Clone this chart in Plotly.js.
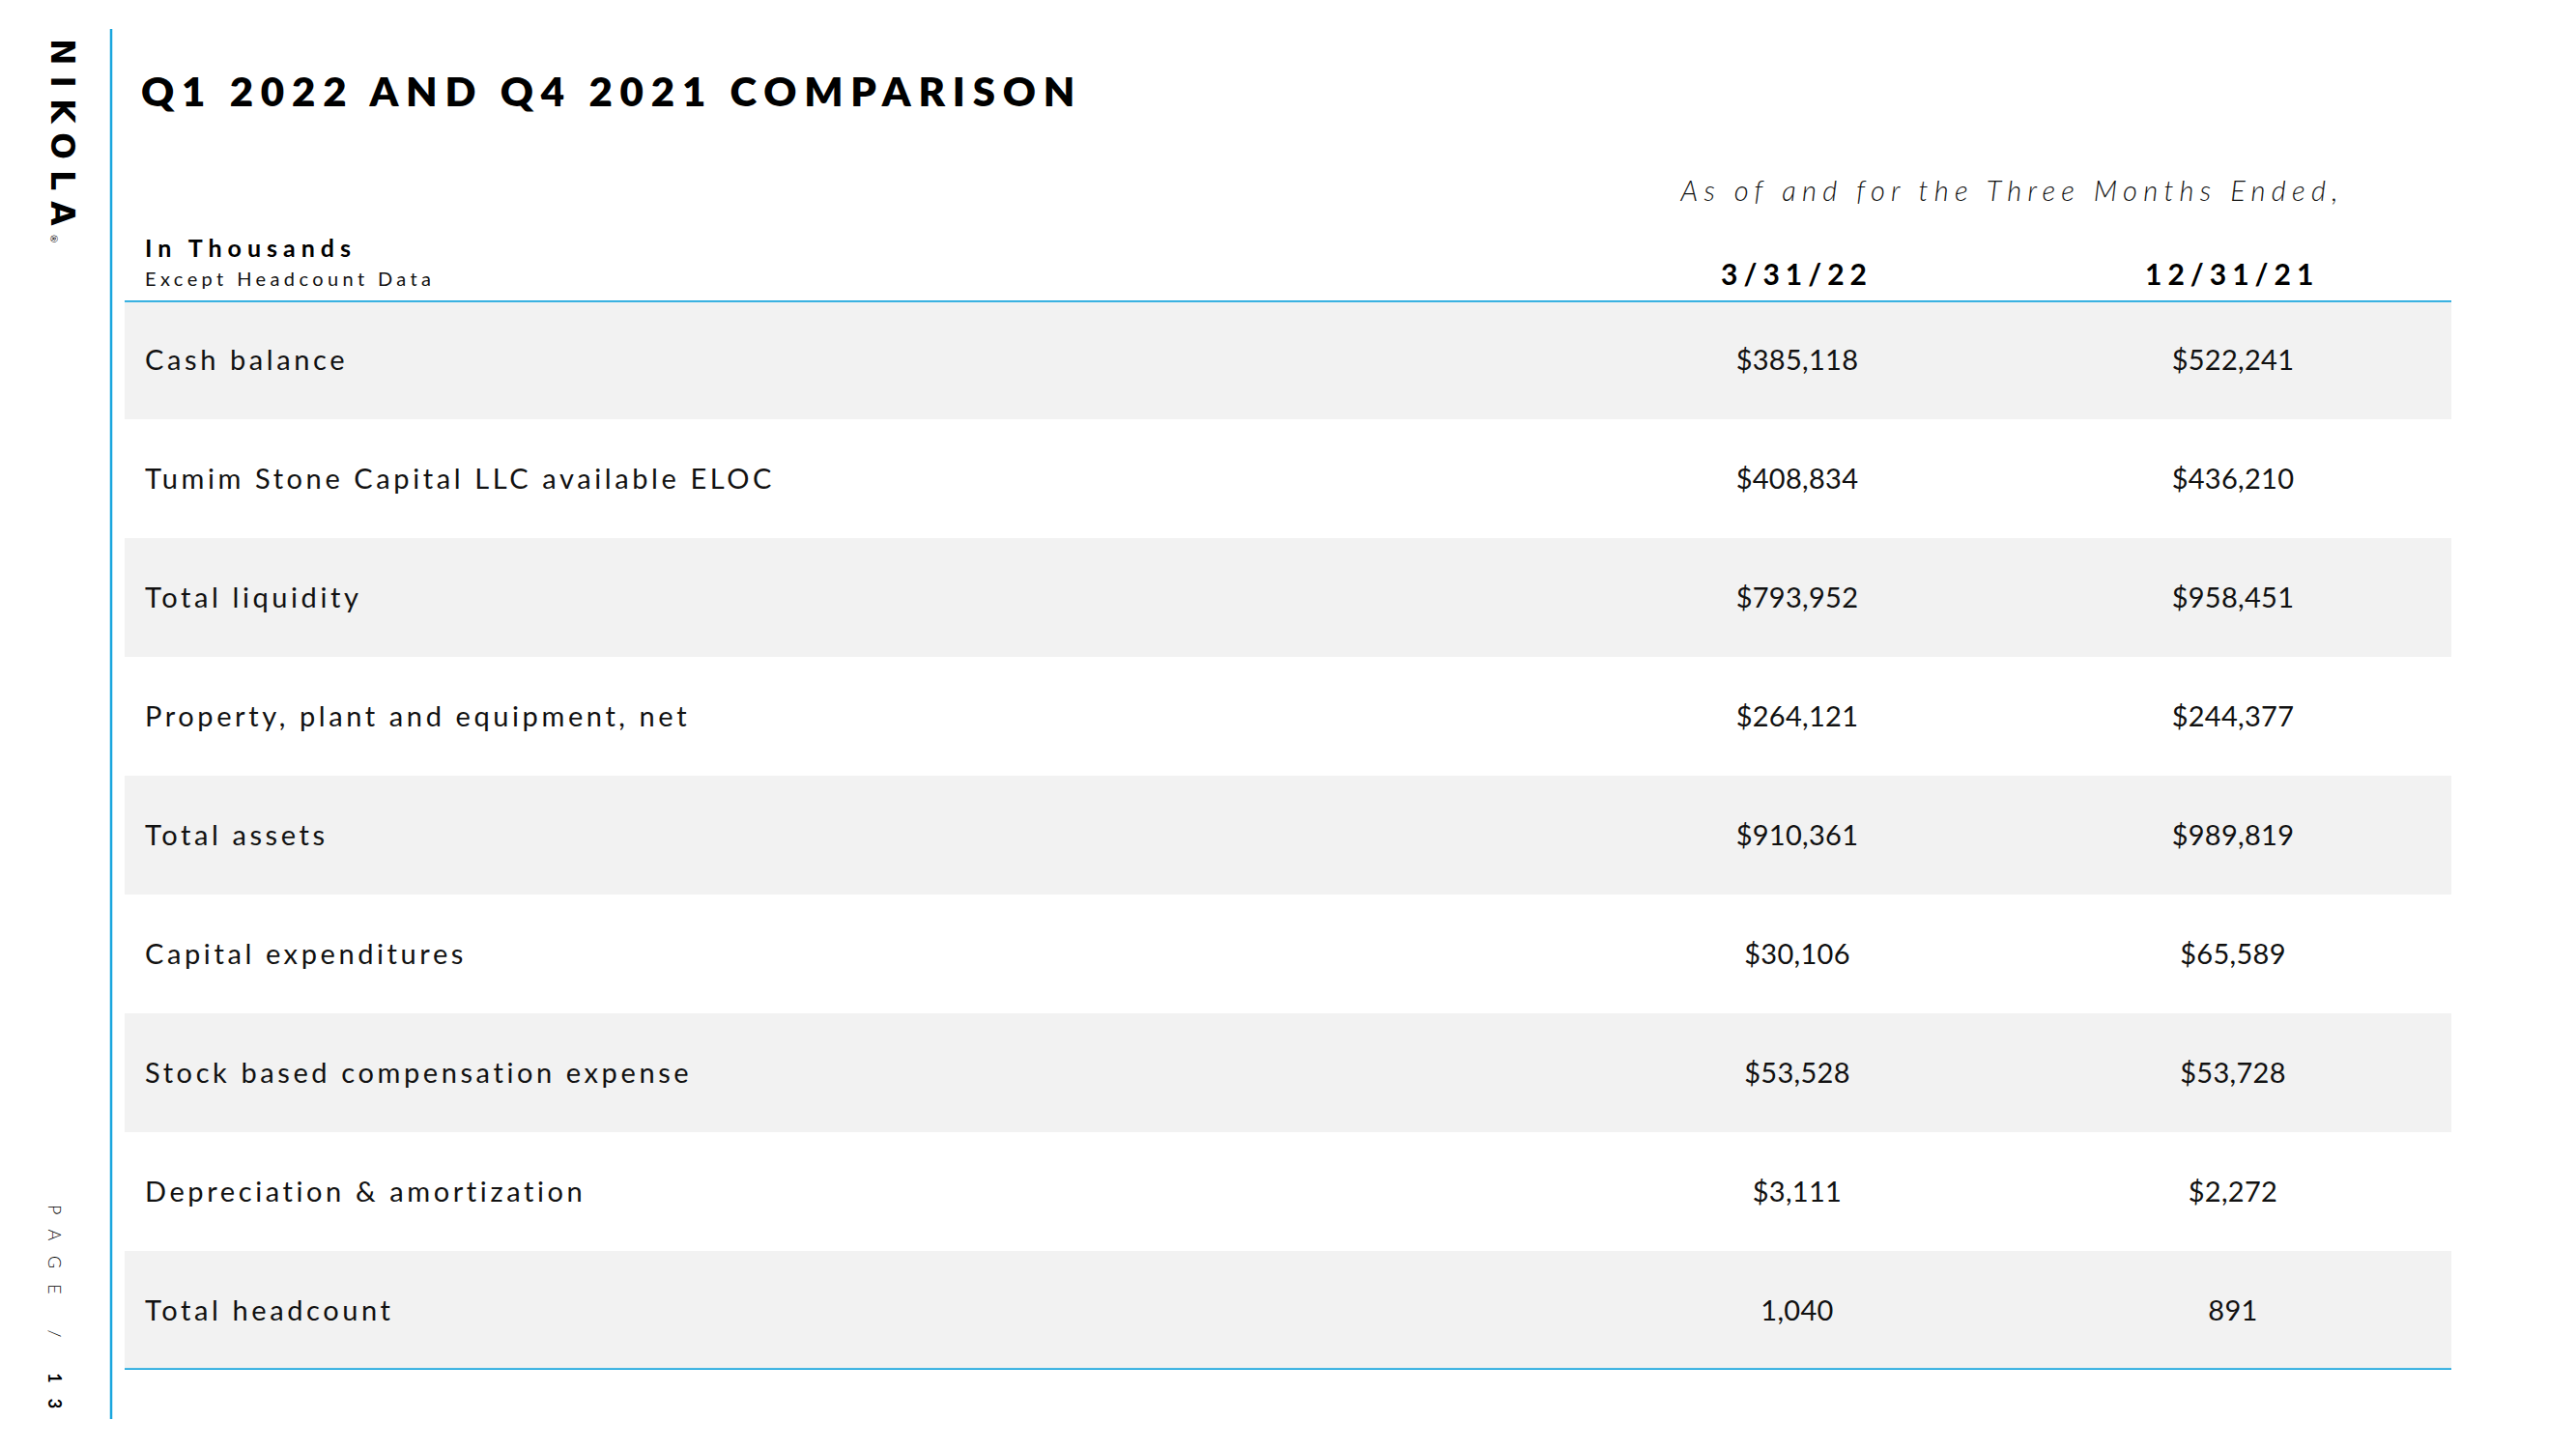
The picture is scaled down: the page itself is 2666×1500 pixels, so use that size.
<!DOCTYPE html>
<html>
<head>
<meta charset="utf-8">
<script src="https://cdn.plot.ly/plotly-3.0.1.min.js"></script>
<style>
  html, body { margin: 0; padding: 0; background: #ffffff; }
  #chart { width: 2666px; height: 1500px; }
</style>
<style id="spacing-rules"></style>
</head>
<body>
<div id="chart"></div>
<script>
// ---------------- data ----------------
const rowLabels = [
  "Cash balance",
  "Tumim Stone Capital LLC available ELOC",
  "Total liquidity",
  "Property, plant and equipment, net",
  "Total assets",
  "Capital expenditures",
  "Stock based compensation expense",
  "Depreciation & amortization",
  "Total headcount"
];
const q1_2022 = [385118, 408834, 793952, 264121, 910361, 30106, 53528, 3111, 1040];
const q4_2021 = [522241, 436210, 958451, 244377, 989819, 65589, 53728, 2272, 891];
const valuePrefix = ["$", "$", "$", "$", "$", "$", "$", "$", ""];
const columnHeaders = ["3/31/22", "12/31/21"];
const periodCaption = "As of and for the Three Months Ended,";
const unitTitle = "In Thousands";
const unitNote = "Except Headcount Data";
const pageTitle = "Q1 2022 AND Q4 2021 COMPARISON";
const brand = "NIKOLA";
const pageLabel = "PAGE / <b>13</b>";

// ---------------- layout constants ----------------
const W = 2666, H = 1500;
const TABLE_X0 = 129, TABLE_X1 = 2537;
const TABLE_TOP = 311, TABLE_BOTTOM = 1418;
const TEXT_DROP = 3.5;            // optical baseline correction for row text
const LABEL_X = 150;
const COL_X = [1860, 2311];
const BLUE = "#1aa6de";
const BAND = "#f2f2f2";
const INK = "#111111";
const FONT = "Lato, 'Open Sans', sans-serif";
const py = p => 1 - p / H;

const fmt = (v, p) => p + v.toLocaleString("en-US");

// ---------------- traces ----------------
const labelTrace = {
  type: "scatter", mode: "text", yaxis: "y2",
  x: rowLabels.map(() => LABEL_X), y: rowLabels, text: rowLabels,
  textposition: "middle right",
  textfont: { family: FONT, size: 29, color: INK },
  hoverinfo: "skip", showlegend: false, cliponaxis: false
};
const valueTraces = [q1_2022, q4_2021].map((vals, c) => ({
  type: "scatter", mode: "text", yaxis: "y2",
  x: vals.map(() => COL_X[c]), y: rowLabels,
  text: vals.map((v, i) => fmt(v, valuePrefix[i])),
  textposition: "middle center",
  textfont: { family: FONT, size: 29, color: INK },
  hoverinfo: "skip", showlegend: false, cliponaxis: false
}));
const traceSpacing = [3.6, 0.3, 0.3];

// ---------------- shapes ----------------
const shapes = [];
rowLabels.forEach((r, i) => {
  if (i % 2 === 0) {
    shapes.push({ type: "rect", layer: "below", xref: "x", yref: "y",
      x0: TABLE_X0, x1: TABLE_X1, y0: i - 0.5, y1: i + 0.5,
      fillcolor: BAND, line: { width: 0 } });
  }
});
shapes.push({ type: "line", xref: "x", yref: "y", x0: TABLE_X0, x1: TABLE_X1,
  y0: -0.5, y1: -0.5, line: { color: BLUE, width: 3.5 } });
shapes.push({ type: "line", xref: "x", yref: "y", x0: TABLE_X0, x1: TABLE_X1,
  y0: rowLabels.length - 0.5, y1: rowLabels.length - 0.5, line: { color: BLUE, width: 3.5 } });
shapes.push({ type: "line", xref: "x", yref: "paper", x0: 115, x1: 115,
  y0: py(30), y1: py(1469), line: { color: BLUE, width: 2.5 } });

// ---------------- annotations ----------------
const ann = [];
const annSpacing = [];
function addAnn(o, spacing) {
  ann.push(Object.assign({ xref: "x", yref: "paper", showarrow: false,
    borderpad: 0, borderwidth: 0 }, o));
  annSpacing.push(spacing);
}
addAnn({ text: pageTitle, x: 146, y: py(94), xanchor: "left", yanchor: "middle", align: "left",
  font: { family: FONT, size: 42, weight: 800, color: "#000" } }, 7.8);
addAnn({ text: brand, x: 65, y: py(142), xanchor: "center", yanchor: "middle", textangle: 90,
  font: { family: "'DejaVu Sans', sans-serif", size: 33, weight: 700, color: "#000" } }, 11);
addAnn({ text: "®", x: 56, y: py(247), xanchor: "center", yanchor: "middle", textangle: 90,
  font: { family: FONT, size: 10, color: "#000" } }, 0);
addAnn({ text: pageLabel, x: 57, y: py(1360), xanchor: "center", yanchor: "middle", textangle: 90,
  font: { family: FONT, size: 18, weight: 300, color: "#000" } }, 16);
addAnn({ text: unitTitle, x: 150, y: py(256), xanchor: "left", yanchor: "middle", align: "left",
  font: { family: FONT, size: 25, weight: 700, color: "#000" } }, 6);
addAnn({ text: unitNote, x: 150, y: py(288), xanchor: "left", yanchor: "middle", align: "left",
  font: { family: FONT, size: 20, weight: 400, color: INK } }, 4.4);
addAnn({ text: periodCaption, x: 2082, y: py(196), xanchor: "center", yanchor: "middle",
  font: { family: FONT, size: 29, weight: 300, style: "italic", color: INK } }, 6.3);
columnHeaders.forEach((h, c) => {
  addAnn({ text: h, x: COL_X[c] - 1, y: py(283), xanchor: "center", yanchor: "middle",
    font: { family: FONT, size: 30, weight: 700, color: "#000" } }, 6);
});

// letter-spacing rules (typographic tracking of the original slide)
let css = "";
annSpacing.forEach((s, i) => {
  if (s) css += `g.annotation[data-index="${i}"] text{letter-spacing:${s}px;}\n`;
});
traceSpacing.forEach((s, i) => {
  css += `.scatterlayer .trace:nth-child(${i + 1}) text{letter-spacing:${s}px;}\n`;
});
document.getElementById("spacing-rules").textContent = css;

// ---------------- layout ----------------
const yBase = {
  type: "category", categoryarray: rowLabels, categoryorder: "array",
  range: [rowLabels.length - 0.5, -0.5], visible: false, fixedrange: true, anchor: "x"
};
const layout = {
  width: W, height: H,
  margin: { l: 0, r: 0, t: 0, b: 0, pad: 0 },
  paper_bgcolor: "#ffffff", plot_bgcolor: "rgba(0,0,0,0)",
  showlegend: false, hovermode: false,
  xaxis: { range: [0, W], domain: [0, 1], visible: false, fixedrange: true },
  yaxis: Object.assign({}, yBase, {
    domain: [(H - TABLE_BOTTOM) / H, (H - TABLE_TOP) / H] }),
  yaxis2: Object.assign({}, yBase, {
    domain: [(H - TABLE_BOTTOM - TEXT_DROP) / H, (H - TABLE_TOP - TEXT_DROP) / H] }),
  shapes: shapes,
  annotations: ann
};

Plotly.newPlot("chart", [labelTrace, ...valueTraces], layout,
  { displayModeBar: false, staticPlot: true });
</script>
</body>
</html>
